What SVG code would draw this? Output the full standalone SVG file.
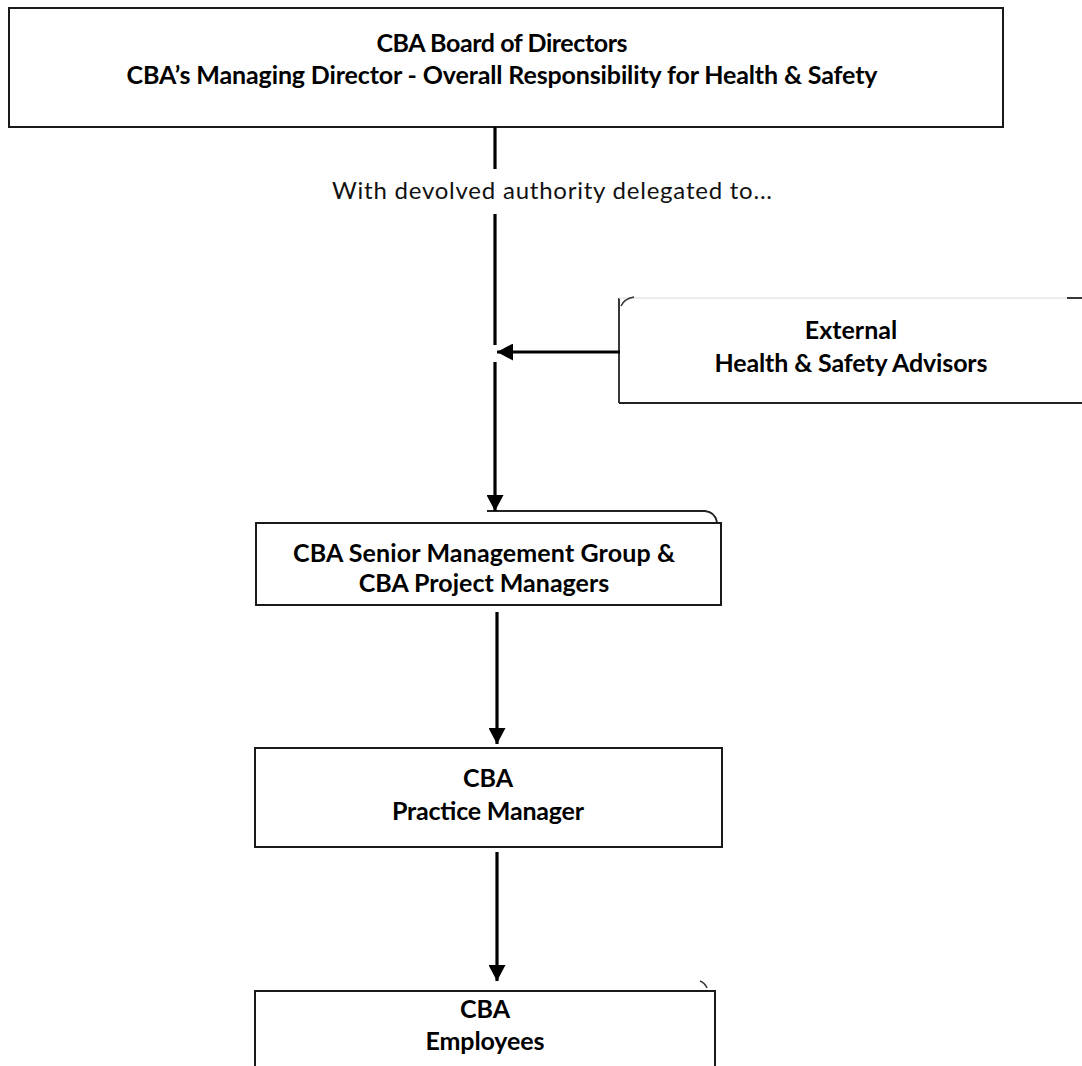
<svg xmlns="http://www.w3.org/2000/svg" width="1082" height="1066" viewBox="0 0 1082 1066">
<style>
.box{fill:#fff;stroke:#1a1a1a;stroke-width:2}
.t{font-family:Lato,"Liberation Sans",sans-serif;font-weight:bold;fill:#000;text-anchor:middle;font-size:25px}
.lbl{font-family:Lato,"Liberation Sans",sans-serif;fill:#111;font-size:24px}
.ln{stroke:#000;stroke-width:3.2;fill:none}
.thin{stroke:#222;stroke-width:1.8;fill:none}
</style>
<defs>
<marker id="ah" viewBox="0 0 10 10" refX="10" refY="5" markerWidth="16" markerHeight="17" markerUnits="userSpaceOnUse" orient="auto" preserveAspectRatio="none">
<path d="M0,0 L10,5 L0,10 Z" fill="#000"/>
</marker>
</defs>
<rect width="1082" height="1066" fill="#fff"/>
<g id="node-board">
<rect class="box" x="9" y="8" width="994" height="119"/>
<text class="t" x="502" y="52" textLength="251">CBA Board of Directors</text>
<text class="t" x="502" y="84" textLength="751">CBA’s Managing Director - Overall Responsibility for Health &amp; Safety</text>
</g>
<g id="node-external">
<path class="thin" d="M619,403 V298"/>
<path d="M619,298 H1067" stroke="#e6e6e6" stroke-width="1.5" fill="none"/>
<path d="M1067,298 H1082" stroke="#222" stroke-width="1.8"/>
<path d="M621,306 Q624,299 634,297" stroke="#333" stroke-width="1.5" fill="none"/>
<path class="thin" d="M619,403 H1082"/>
<text class="t" x="851" y="339">External</text>
<text class="t" x="851" y="372" textLength="273">Health &amp; Safety Advisors</text>
</g>
<g id="node-senior">
<rect class="box" x="256" y="523" width="465" height="82"/>
<path class="thin" d="M487,511 H705 Q715,512 717,522"/>
<text class="t" x="484" y="562" textLength="382">CBA Senior Management Group &amp;</text>
<text class="t" x="484" y="592">CBA Project Managers</text>
</g>
<g id="node-practice">
<rect class="box" x="255" y="748" width="467" height="99"/>
<text class="t" x="488" y="787">CBA</text>
<text class="t" x="488" y="820" textLength="192">Practice Manager</text>
</g>
<g id="node-employees">
<rect class="box" x="255" y="991" width="460" height="90"/>
<path d="M700,981 Q705,983 707,988" stroke="#333" stroke-width="1.5" fill="none"/>
<text class="t" x="485" y="1018">CBA</text>
<text class="t" x="485" y="1050" textLength="119">Employees</text>
</g>
<g id="connectors">
<line class="ln" x1="495" y1="127" x2="495" y2="169"/>
<text class="lbl" x="332" y="199" textLength="440">With devolved authority delegated to...</text>
<line class="ln" x1="495" y1="214" x2="495" y2="345"/>
<line class="ln" x1="620" y1="352" x2="497" y2="352" marker-end="url(#ah)"/>
<line class="ln" x1="495" y1="362" x2="495" y2="511" marker-end="url(#ah)"/>
<line class="ln" x1="497" y1="612" x2="497" y2="744" marker-end="url(#ah)"/>
<line class="ln" x1="497" y1="852" x2="497" y2="981" marker-end="url(#ah)"/>
</g>
</svg>
